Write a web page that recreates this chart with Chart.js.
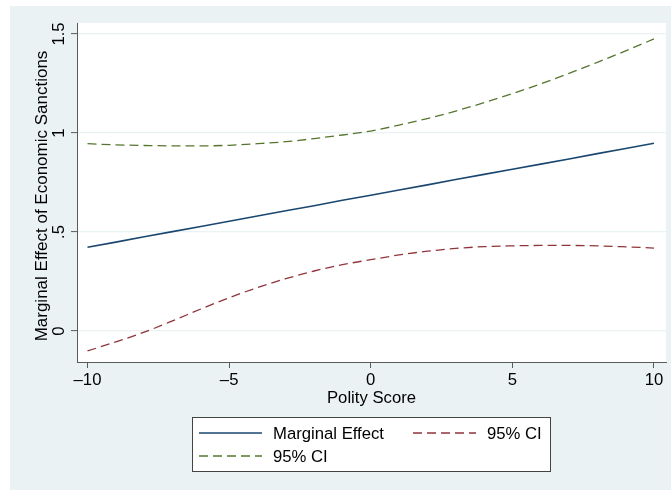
<!DOCTYPE html>
<html>
<head>
<meta charset="utf-8">
<script src="https://cdn.jsdelivr.net/npm/chart.js@4.4.1/dist/chart.umd.min.js"></script>
<style>
  html, body { margin: 0; padding: 0; background: #ffffff; }
  canvas { display: block; }
</style>
</head>
<body>
<canvas id="chart" width="671" height="490"></canvas>
<script>
// values
const polityScore = [-10, -9, -8, -7, -6, -5, -4, -3, -2, -1, 0, 1, 2, 3, 4, 5, 6, 7, 8, 9, 10];
const marginalEffect = [0.423, 0.449, 0.476, 0.502, 0.528, 0.554, 0.581, 0.607, 0.633, 0.660, 0.686,
                        0.712, 0.738, 0.765, 0.791, 0.817, 0.843, 0.869, 0.896, 0.922, 0.948];
const ciLower = [-0.101, -0.055, -0.006, 0.051, 0.111, 0.168, 0.219, 0.264, 0.303, 0.335, 0.360,
                 0.384, 0.403, 0.417, 0.426, 0.430, 0.432, 0.432, 0.430, 0.425, 0.419];
const ciUpper = [0.946, 0.940, 0.937, 0.935, 0.935, 0.938, 0.946, 0.956, 0.972, 0.990, 1.010,
                 1.040, 1.073, 1.111, 1.153, 1.199, 1.248, 1.301, 1.357, 1.415, 1.475];

const xTicks = [-10, -5, 0, 5, 10];
const yTicks = [0, 0.5, 1, 1.5];
const seriesLabels = ['Marginal Effect', '95% CI', '95% CI'];

const FONT = "'Liberation Sans', Arial, sans-serif";
const AXIS_COLOR = '#5a5a5a';

function toPoints(values) {
    return polityScore.map((x, i) => ({ x: x, y: values[i] }));
}

function yLabel(v) {
    if (v === 0) return '0';
    return String(v).replace(/^0\./, '.');
}

function xLabel(v) {
    return v < 0 ? '\u2013' + Math.abs(v) : String(v);
}

// stata-like frame, axis texts and legend box
const stataFrame = {
    id: 'stataFrame',
    beforeDraw(chart) {
        const ctx = chart.ctx;
        const a = chart.chartArea;
        ctx.save();
        ctx.fillStyle = '#ffffff';
        ctx.fillRect(0, 0, chart.width, chart.height);
        ctx.fillStyle = '#eaf2f3';
        ctx.fillRect(10, 6, chart.width - 10, chart.height - 6);
        ctx.fillStyle = '#ffffff';
        ctx.fillRect(a.left, a.top, a.right - a.left, a.bottom - a.top);
        ctx.restore();
    },
    afterDraw(chart) {
        const ctx = chart.ctx;
        const xs = chart.scales.x;
        const ys = chart.scales.y;
        const a = chart.chartArea;
        ctx.save();
        ctx.fillStyle = '#000000';
        ctx.font = '16.7px ' + FONT;
        ctx.textBaseline = 'alphabetic';
        ctx.textAlign = 'center';

        // x tick labels and title
        xTicks.forEach(v => {
            ctx.fillText(xLabel(v), xs.getPixelForValue(v), 384.5);
        });
        ctx.fillText('Polity Score', (a.left + a.right) / 2, 403);

        // y tick labels, rotated
        yTicks.forEach(v => {
            ctx.save();
            ctx.translate(64, ys.getPixelForValue(v));
            ctx.rotate(-Math.PI / 2);
            ctx.fillText(yLabel(v), 0, 0);
            ctx.restore();
        });
        ctx.save();
        ctx.font = '17px ' + FONT;
        ctx.translate(47, 196);
        ctx.rotate(-Math.PI / 2);
        ctx.fillText('Marginal Effect of Economic Sanctions', 0, 0);
        ctx.restore();

        // legend
        ctx.fillStyle = '#ffffff';
        ctx.fillRect(192, 417, 359, 55);
        ctx.strokeStyle = '#444444';
        ctx.lineWidth = 1;
        ctx.strokeRect(192.5, 417.5, 358, 54);

        const slots = [
            { x: 199, y: 433 },
            { x: 413, y: 433 },
            { x: 199, y: 456 }
        ];
        chart.data.datasets.forEach((ds, i) => {
            const s = slots[i];
            ctx.beginPath();
            ctx.strokeStyle = ds.borderColor;
            ctx.lineWidth = ds.borderWidth;
            ctx.setLineDash(ds.borderDash || []);
            ctx.moveTo(s.x, s.y);
            ctx.lineTo(s.x + 63, s.y);
            ctx.stroke();
            ctx.setLineDash([]);
            ctx.fillStyle = '#000000';
            ctx.textAlign = 'left';
            ctx.font = '16.7px ' + FONT;
            ctx.fillText(ds.label, s.x + 74, s.y + 6.3);
        });
        ctx.restore();
    }
};

new Chart(document.getElementById('chart'), {
    type: 'line',
    data: {
        datasets: [
            {
                label: seriesLabels[0],
                data: toPoints(marginalEffect),
                borderColor: '#1a476f',
                borderWidth: 1.6,
                pointRadius: 0,
                fill: false
            },
            {
                label: seriesLabels[1],
                data: toPoints(ciLower),
                borderColor: '#90353b',
                borderWidth: 1.3,
                borderDash: [9, 5],
                pointRadius: 0,
                cubicInterpolationMode: 'monotone',
                fill: false
            },
            {
                label: seriesLabels[2],
                data: toPoints(ciUpper),
                borderColor: '#55752f',
                borderWidth: 1.3,
                borderDash: [9, 5],
                pointRadius: 0,
                cubicInterpolationMode: 'monotone',
                fill: false
            }
        ]
    },
    options: {
        responsive: false,
        animation: false,
        devicePixelRatio: 1,
        layout: { padding: { left: 0, top: 23, right: 5, bottom: 0 } },
        plugins: {
            legend: { display: false },
            tooltip: { enabled: false }
        },
        scales: {
            x: {
                type: 'linear',
                min: -10.371,
                max: 10.424,
                afterBuildTicks: scale => { scale.ticks = xTicks.map(v => ({ value: v })); },
                afterFit: scale => { scale.height = 128; },
                ticks: { display: false },
                grid: {
                    drawOnChartArea: false,
                    drawTicks: true,
                    tickLength: 6,
                    tickColor: AXIS_COLOR,
                    tickWidth: 1
                },
                border: { display: true, color: AXIS_COLOR, width: 1 }
            },
            y: {
                type: 'linear',
                min: -0.1566,
                max: 1.5556,
                afterBuildTicks: scale => { scale.ticks = yTicks.map(v => ({ value: v })); },
                afterFit: scale => { scale.width = 77; },
                ticks: { display: false },
                grid: {
                    color: '#eaf2f3',
                    lineWidth: 1.2,
                    drawTicks: true,
                    tickLength: 6,
                    tickColor: AXIS_COLOR,
                    tickWidth: 1
                },
                border: { display: true, color: AXIS_COLOR, width: 1 }
            }
        }
    },
    plugins: [stataFrame]
});
</script>
</body>
</html>
